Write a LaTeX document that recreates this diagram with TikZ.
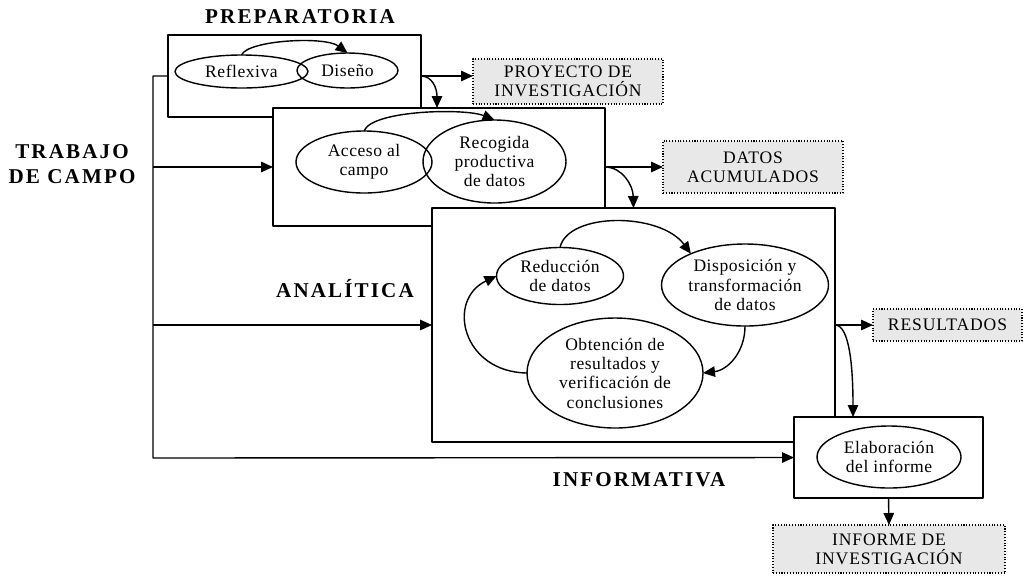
\documentclass[tikz,border=0pt]{standalone}
\usepackage{fontspec}
\setmainfont{Liberation Serif}[LetterSpace=3]
\newfontfamily\titlefont{Liberation Serif}[LetterSpace=10]
\newfontfamily\outfont{Liberation Serif}[LetterSpace=5]
\usetikzlibrary{shapes.geometric,arrows.meta}
\definecolor{outgray}{RGB}{232,232,232}
\begin{document}
\begin{tikzpicture}[x=0.02cm,y=-0.02cm,>={Triangle[length=2.4mm,width=2.1mm]},line width=0.8pt,line join=round,font=\fontsize{10}{11}\selectfont]
\def\px{0.02cm}
\tikzset{phase/.style={draw,fill=white,inner sep=0pt,outer sep=0pt},
  stage/.style={draw,ellipse,inner sep=0pt,outer sep=0pt,align=center},
  product/.style={draw,line width=0.6pt,densely dotted,fill=outgray,align=center,inner sep=0pt,outer sep=0pt,font=\outfont\fontsize{10}{11}\selectfont},
  title/.style={font=\titlefont\fontsize{12}{14.5}\selectfont\bfseries,align=center}}
\useasboundingbox (0,0) rectangle (1026,576);
\node[title] (tprep) at (300,17) {PREPARATORIA};
\node[title] (ttrab) at (72,164) {TRABAJO\\DE CAMPO};
\node[title] (tanal) at (345,289) {ANALÍTICA};
\node[title] (tinfo) at (639,480) {INFORMATIVA};
\node[phase,minimum width=253*\px,minimum height=82*\px] (prep) at (294.5,76) {};
\node[phase,minimum width=332*\px,minimum height=118*\px] (campo) at (439,167) {};
\node[phase,minimum width=403*\px,minimum height=234*\px] (anal) at (633.5,325) {};
\node[phase,minimum width=189*\px,minimum height=81*\px] (infor) at (888.5,457.5) {};
\node[stage,minimum width=133*\px,minimum height=33*\px] (refl) at (241.5,71.5) {Reflexiva};
\node[stage,minimum width=101*\px,minimum height=35*\px] (dise) at (347.5,70.5) {Diseño};
\node[stage,minimum width=136*\px,minimum height=62*\px] (acce) at (364,162) {Acceso al\\campo};
\node[stage,minimum width=143*\px,minimum height=83*\px] (reco) at (494.5,161.5) {Recogida\\productiva\\de datos};
\node[stage,minimum width=127*\px,minimum height=57*\px] (redu) at (560,276) {Reducción\\de datos};
\node[stage,minimum width=167*\px,minimum height=82*\px] (disp) at (745,285) {Disposición y\\transformación\\de datos};
\node[stage,minimum width=176*\px,minimum height=110*\px] (obte) at (615,373) {Obtención de\\resultados y\\verificación de\\conclusiones};
\node[stage,minimum width=144*\px,minimum height=62*\px] (elab) at (889,457) {Elaboración\\del informe};
\node[product,minimum width=190*\px,minimum height=45*\px] (proy) at (568,81.5) {PROYECTO DE\\INVESTIGACIÓN};
\node[product,minimum width=180*\px,minimum height=52*\px] (datos) at (753,167) {DATOS\\ACUMULADOS};
\node[product,minimum width=149*\px,minimum height=32*\px] (resul) at (947.5,325) {RESULTADOS};
\node[product,minimum width=232*\px,minimum height=48*\px] (infinv) at (889,549) {INFORME DE\\INVESTIGACIÓN};
\coordinate (busbot) at (153,458);
\coordinate (campin) at (437,108);
\coordinate (infin) at (853,417);
\draw[->] (prep.west) -| (busbot) -- (infor.west);
\draw[->] (campo.west -| busbot) -- (campo.west);
\draw[->] (anal.west -| busbot) -- (anal.west);
\draw[->] (prep.east) -- (proy.west |- prep.east);
\draw[->] (prep.east) .. controls (432,76) and (437,88) .. (campin);
\draw[->] (campo.east) -- (datos.west);
\draw[->] (campo.east) .. controls (622,167) and (633,185) .. (anal.north);
\draw[->] (anal.east) -- (resul.west);
\draw[->] (anal.east) .. controls (850,325) and (853,370) .. (infin);
\draw[->] (infor.south) -- (infinv.north);
\draw[->] (refl.north) .. controls (248,40) and (325,36) .. (dise.north);
\draw[->] (acce.north) .. controls (372,110) and (465,108) .. (reco.north);
\draw[->] (redu.north) .. controls (568,212) and (660,212) .. (disp.150);
\draw[->] (disp.south) .. controls (745,352) and (728,370) .. (obte.east);
\draw[->] (obte.west) .. controls (462,372) and (446,300) .. (redu.west);
\end{tikzpicture}
\end{document}
